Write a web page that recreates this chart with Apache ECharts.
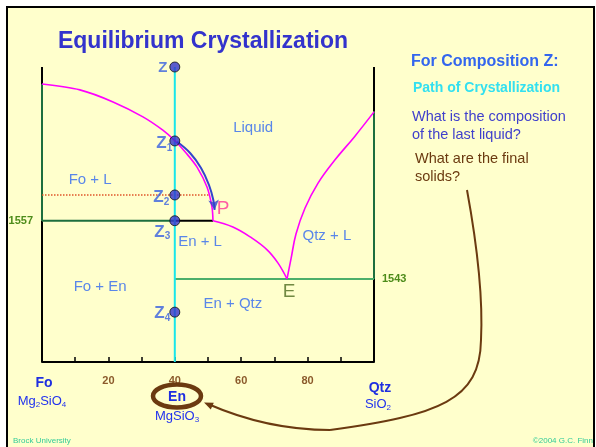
<!DOCTYPE html>
<html><head><meta charset="utf-8">
<script src="https://cdn.jsdelivr.net/npm/echarts@6/dist/echarts.min.js"></script>
<style>html,body{margin:0;padding:0;background:#fff}#c{width:596px;height:447px}</style>
</head><body><div id="c"></div>
<script>
const FONT = '"Liberation Sans", Arial, sans-serif';

// axis ranges / tick labels
const xMin = 0, xMax = 100, tMin = 1523, tMax = 1594;
const xTickLabels = [20, 40, 60, 80];
const leftIsotherm = 1557;   // Fo + En + L (peritectic P)
const rightIsotherm = 1543;  // En + Qtz + L (eutectic E)
const enComposition = 40;

// liquidus curves (wt% SiO2 , T)
const foLiquidusX = [0, 11.4, 21.4, 30.4, 36.4, 40.1, 43.4, 46.7, 49.7, 51.2, 51.5];
const foLiquidusT = [1589.9, 1588.5, 1585.6, 1582.0, 1578.8, 1576.2, 1573.3, 1569.9, 1565.1, 1560.3, 1557];
const enLiquidusX = [51.5, 57.5, 62.7, 67.8, 71.1, 73.8];
const enLiquidusT = [1557, 1555.5, 1553.1, 1550.0, 1546.8, 1543];
const qtzLiquidusX = [73.8, 75.0, 76.5, 79.2, 83.1, 88.2, 94.2, 100];
const qtzLiquidusT = [1543, 1547.8, 1553.8, 1560.0, 1566.0, 1571.6, 1577.3, 1583.2];

// crystallization path of liquid (Z1 -> P)
const pathX = [40.7, 44.6, 47.9, 50.3, 51.6, 52.0];
const pathT = [1576.0, 1573.3, 1569.7, 1565.6, 1562.0, 1559.6];

// dotted isotherm through Z2
const dottedT = 1563.2;
const dottedXEnd = 50.6;

// composition Z points
const zNames = ['Z', 'Z1', 'Z2', 'Z3', 'Z4'];
const zX = [40, 40, 40, 40, 40];
const zT = [1594, 1576.2, 1563.2, 1557, 1535.0];

// invariant points
const invNames = ['P', 'E'];
const invX = [51.5, 73.8];
const invT = [1557, 1543];

// phase-field labels
const regionNames = ['Fo + L', 'Liquid', 'En + L', 'Qtz + L', 'Fo + En', 'En + Qtz'];
const regionX = [14.5, 63.6, 47.6, 85.8, 17.5, 57.5];
const regionT = [1566.8, 1579.3, 1551.9, 1553.3, 1541.1, 1537.0];

// ---------- build ----------
const BLACK = '#000', DKGREEN = '#1d6e3e', LTGREEN = '#4caf6a', MAG = '#ff00ff', CYAN = '#19e6ea';
function seg(x1, t1, x2, t2, color, width, type) {
  return { type: 'line', data: [[x1, t1], [x2, t2]], symbol: 'none', silent: true,
    lineStyle: { color: color, width: width, type: type || 'solid' }, z: 3, clip: false };
}
function curve(xs, ts, color, width, smooth) {
  return { type: 'line', data: xs.map((x, i) => [x, ts[i]]), symbol: 'none', smooth: smooth,
    lineStyle: { color: color, width: width }, z: 4, clip: false, silent: true };
}
const zLabelLayout = [
  { dist: 2, offset: [0, 1] },
  { dist: 0, offset: [3, 3] },
  { dist: 0, offset: [0, 3] },
  { dist: 0, offset: [1, 12] },
  { dist: 0, offset: [1, 2] }
];
const ZC = '#3860e0';
const zRich = {
  t: { fontFamily: FONT, fontSize: 15, fontWeight: 'bold', color: ZC, lineHeight: 16 },
  m: { fontFamily: FONT, fontSize: 17, fontWeight: 'bold', color: ZC, lineHeight: 18, verticalAlign: 'top' },
  s: { fontFamily: FONT, fontSize: 10, fontWeight: 'bold', color: ZC, lineHeight: 10, verticalAlign: 'bottom', padding: [12, 0, 0, 0] }
};
const invLabelLayout = [
  { offset: [10, -12], color: '#ff3399', size: 19 },
  { offset: [2, 13], color: '#4d6b1f', size: 19 }
];

const series = [
  // left boundary
  seg(xMin, tMax, xMin, foLiquidusT[0], BLACK, 2),
  seg(xMin, foLiquidusT[0], xMin, leftIsotherm, DKGREEN, 2),
  seg(xMin, leftIsotherm, xMin, tMin, BLACK, 2),
  // right boundary
  seg(xMax, tMax, xMax, qtzLiquidusT[qtzLiquidusT.length - 1], BLACK, 2),
  seg(xMax, qtzLiquidusT[qtzLiquidusT.length - 1], xMax, rightIsotherm, DKGREEN, 2),
  seg(xMax, rightIsotherm, xMax, tMin, BLACK, 2),
  // isotherms
  seg(xMin, leftIsotherm, enComposition, leftIsotherm, DKGREEN, 2),
  seg(enComposition, leftIsotherm, foLiquidusX[foLiquidusX.length - 1], leftIsotherm, BLACK, 2),
  seg(enComposition, rightIsotherm, xMax, rightIsotherm, LTGREEN, 2),
  seg(xMin, dottedT, dottedXEnd, dottedT, '#e0552a', 1.5, 'dotted'),
  // En composition line
  seg(enComposition, tMax, enComposition, tMin, CYAN, 2),
  // liquidus
  curve(foLiquidusX, foLiquidusT, MAG, 1.6, 0.3),
  curve(enLiquidusX, enLiquidusT, MAG, 1.6, 0.4),
  curve(qtzLiquidusX, qtzLiquidusT, MAG, 1.6, 0.4),
  // path arrow
  curve(pathX, pathT, '#3344cc', 2, 0.4),
  { type: 'scatter', data: [[pathX[pathX.length - 1], pathT[pathT.length - 1]]], symbol: 'arrow',
    symbolSize: [8, 10], symbolRotate: 186, itemStyle: { color: '#3344cc' }, z: 6, clip: false, silent: true },
  // Z points
  { type: 'scatter', z: 10, clip: false, symbolSize: 10, silent: true,
    itemStyle: { color: '#3333cc', borderColor: '#111', borderWidth: 1 },
    data: zX.map((x, i) => ({
      value: [x, zT[i]],
      label: {
        show: true, position: 'left', distance: zLabelLayout[i].dist, offset: zLabelLayout[i].offset,
        formatter: zNames[i].length > 1 ? '{m|Z}{s|' + zNames[i].slice(1) + '}' : '{t|Z}',
        rich: zRich
      }
    }))
  },
  // invariant point labels
  { type: 'scatter', z: 8, clip: false, symbolSize: 0, silent: true,
    data: invX.map((x, i) => ({
      value: [x, invT[i]],
      label: { show: true, position: 'inside', offset: invLabelLayout[i].offset, formatter: invNames[i],
        color: invLabelLayout[i].color, fontSize: invLabelLayout[i].size, fontFamily: FONT }
    }))
  },
  // region labels
  { type: 'scatter', z: 8, clip: false, symbolSize: 0, silent: true,
    data: regionX.map((x, i) => ({ value: [x, regionT[i]], name: regionNames[i] })),
    label: { show: true, position: 'inside', formatter: p => p.name, color: '#3068f0', fontSize: 15, fontFamily: FONT }
  }
];

function txt(x, y, text, font, fill, align) {
  return { type: 'text', x: x, y: y, z: 20, silent: true,
    style: { text: text, font: font, fill: fill, align: align || 'center', verticalAlign: 'middle',
      textAlign: align || 'center', textVerticalAlign: 'middle' } };
}
function formula(x, y, parts, color, size) {
  const text = parts.map((p, i) => (i % 2 === 0 ? '{a|' + p + '}' : '{s|' + p + '}')).join('');
  return { type: 'text', x: x, y: y, z: 20, silent: true,
    style: { text: text, align: 'center', verticalAlign: 'middle', textAlign: 'center', textVerticalAlign: 'middle',
      rich: {
        a: { fontSize: size, fontFamily: FONT, fill: color, lineHeight: 15 },
        s: { fontSize: 8, fontFamily: FONT, fill: color, lineHeight: 7, verticalAlign: 'bottom' }
      } } };
}

const BROWN = '#6b3a10';
const graphic = [
  { type: 'rect', z: -10, silent: true, shape: { x: 7, y: 7, width: 587, height: 460 },
    style: { fill: '#ffffcc', stroke: '#000', lineWidth: 2 } },
  txt(203, 42, 'Equilibrium Crystallization', 'bold 23px ' + FONT, '#3333cc'),
  txt(411, 62, 'For Composition Z:', 'bold 16px ' + FONT, '#3366ee', 'left'),
  txt(413, 88, 'Path of Crystallization', 'bold 14px ' + FONT, '#33e0f0', 'left'),
  txt(412, 117, 'What is the composition', '14.5px ' + FONT, '#4040cc', 'left'),
  txt(412, 135, 'of the last liquid?', '14.5px ' + FONT, '#4040cc', 'left'),
  txt(415, 159, 'What are the final', '14.5px ' + FONT, BROWN, 'left'),
  txt(415, 177, 'solids?', '14.5px ' + FONT, BROWN, 'left'),
  txt(44, 383, 'Fo', 'bold 14px ' + FONT, '#1f2fe0'),
  formula(42, 401, ['Mg', '2', 'SiO', '4'], '#2233ee', 13),
  txt(177, 397, 'En', 'bold 14px ' + FONT, '#1f2fe0'),
  formula(177, 416, ['MgSiO', '3'], '#2233ee', 13),
  txt(380, 388, 'Qtz', 'bold 14px ' + FONT, '#1f2fe0'),
  formula(378, 404, ['SiO', '2'], '#2233ee', 13),
  txt(13, 441, 'Brock University', '8px ' + FONT, '#33cc99', 'left'),
  txt(593, 441, '\u00a92004 G.C. Finn', '8px ' + FONT, '#33cc99', 'right'),
  // annotation: ring around En and arrow from question
  { type: 'ellipse', z: 15, silent: true, shape: { cx: 177, cy: 396, rx: 24, ry: 11.5 },
    style: { fill: 'none', stroke: BROWN, lineWidth: 4.5 } },
  { type: 'bezierCurve', z: 15, silent: true,
    shape: { x1: 467, y1: 190, cpx1: 478, cpy1: 250, cpx2: 483, cpy2: 300, x2: 481, y2: 340 },
    style: { stroke: BROWN, lineWidth: 2, fill: 'none' } },
  { type: 'bezierCurve', z: 15, silent: true,
    shape: { x1: 481, y1: 340, cpx1: 480, cpy1: 400, cpx2: 440, cpy2: 415, x2: 330, y2: 430 },
    style: { stroke: BROWN, lineWidth: 2, fill: 'none' } },
  { type: 'bezierCurve', z: 15, silent: true,
    shape: { x1: 330, y1: 430, cpx1: 280, cpy1: 430, cpx2: 240, cpy2: 418, x2: 208, y2: 404 },
    style: { stroke: BROWN, lineWidth: 2, fill: 'none' } },
  { type: 'polygon', z: 15, silent: true,
    shape: { points: [[204, 402.5], [210.8, 409.6], [213.8, 402.8]] },
    style: { fill: BROWN } }
];

const chart = echarts.init(document.getElementById('c'), null, { renderer: 'canvas' });
chart.setOption({
  backgroundColor: '#ffffff',
  animation: false,
  grid: { left: 42, right: 222, top: 67, bottom: 85, containLabel: false, outerBoundsMode: 'none' },
  xAxis: {
    type: 'value', min: xMin, max: xMax, interval: 10,
    axisLine: { show: true, onZero: false, lineStyle: { color: '#000', width: 2 } },
    axisTick: { show: true, inside: true, length: 5, lineStyle: { color: '#000', width: 1.5 } },
    axisLabel: { margin: 13, color: '#8b5a2b', fontWeight: 'bold', fontSize: 11, fontFamily: FONT,
      formatter: v => (xTickLabels.indexOf(v) >= 0 ? String(v) : '') },
    splitLine: { show: false }
  },
  yAxis: [
    { type: 'value', min: tMin, max: tMax, position: 'left',
      axisLine: { show: false }, axisTick: { show: false }, splitLine: { show: false },
      axisLabel: { customValues: [leftIsotherm], formatter: v => String(v), margin: 9, color: '#4d8c1a', fontWeight: 'bold', fontSize: 11, fontFamily: FONT } },
    { type: 'value', min: tMin, max: tMax, position: 'right',
      axisLine: { show: false }, axisTick: { show: false }, splitLine: { show: false },
      axisLabel: { customValues: [rightIsotherm], formatter: v => String(v), margin: 8, color: '#4d8c1a', fontWeight: 'bold', fontSize: 11, fontFamily: FONT } }
  ],
  series: series,
  graphic: graphic
});
</script></body></html>
